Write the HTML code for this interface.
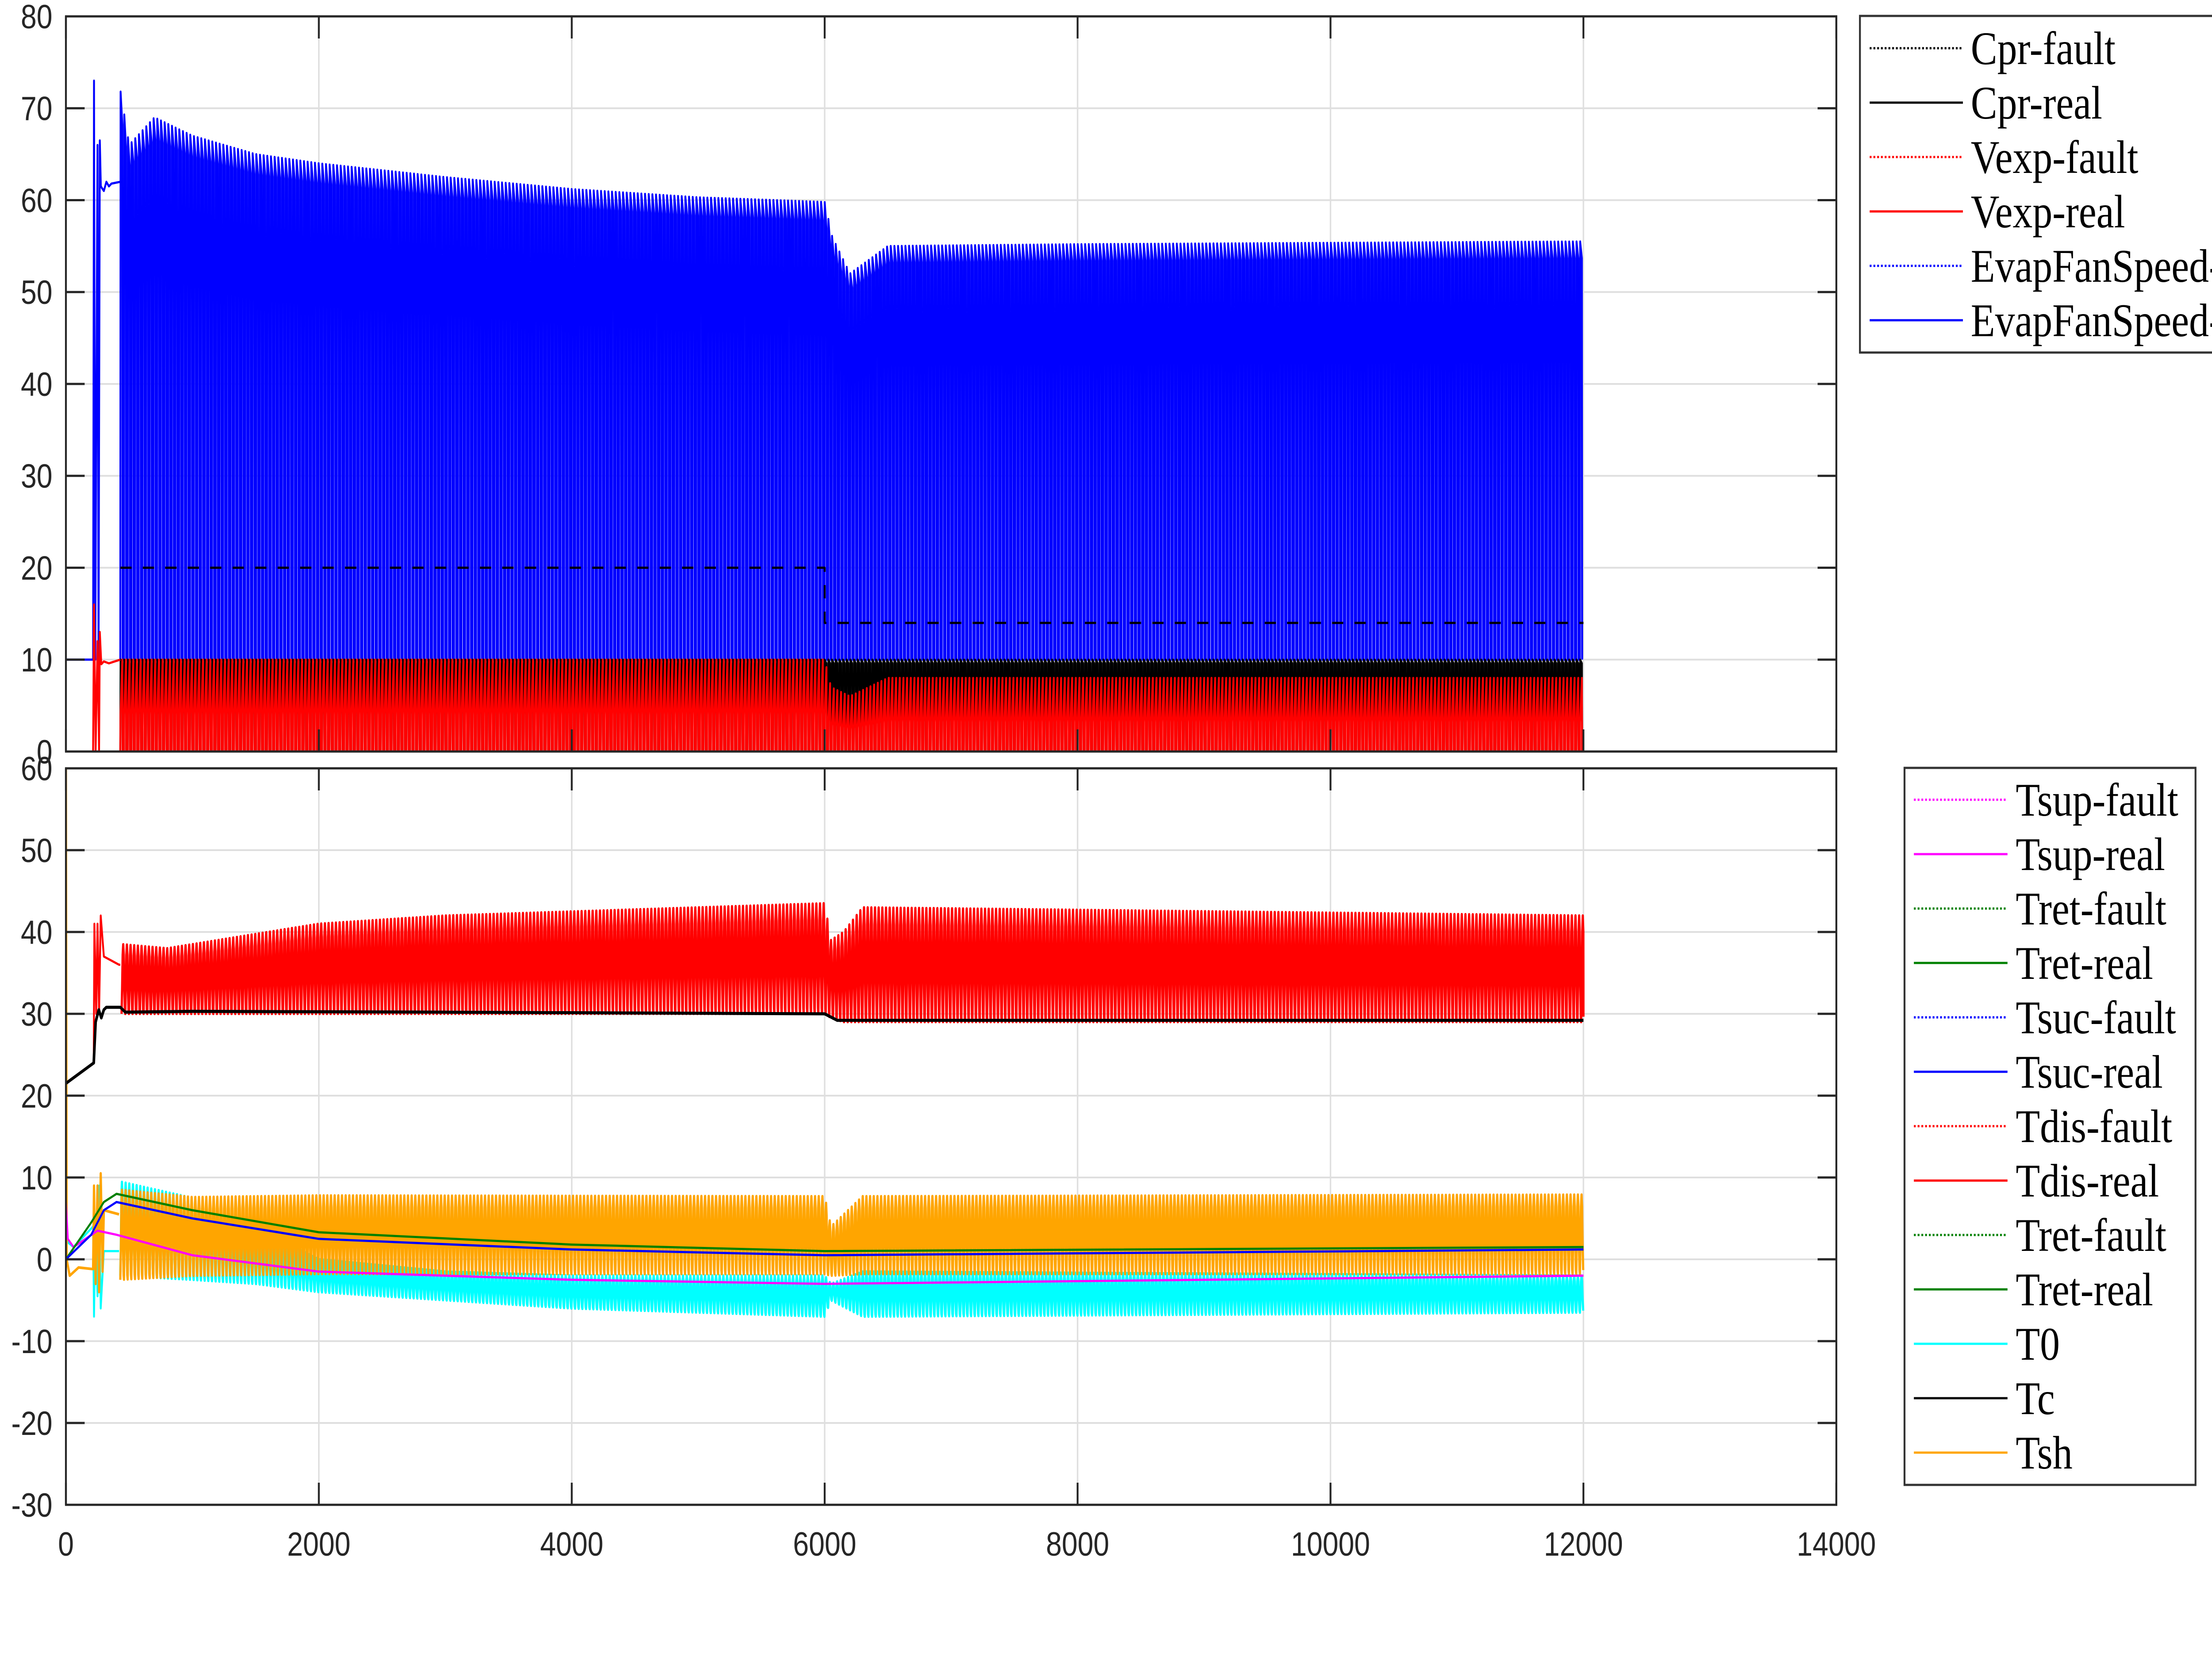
<!DOCTYPE html>
<html><head><meta charset="utf-8">
<style>
html,body{margin:0;padding:0;background:#fff;width:100%;overflow:hidden;}
svg{display:block;width:100vw;height:3780px;}
.tk{font-family:"Liberation Sans",sans-serif;font-size:76px;fill:#262626;}
.lg{font-family:"Liberation Serif",serif;font-size:106px;fill:#000;}
</style></head>
<body>
<svg id="fig" viewBox="0 0 5906 3780" preserveAspectRatio="none" xmlns="http://www.w3.org/2000/svg">
<rect width="5906" height="3780" fill="#fff"/>
<g id="top-grid"></g>
<g id="bot-grid"></g>
<clipPath id="cpTop"><rect x="176" y="37" width="4727" height="1662"/></clipPath>
<clipPath id="cpBot"><rect x="176" y="1737" width="4727" height="1665"/></clipPath>
<g id="top-series" clip-path="url(#cpTop)"></g>
<g id="bot-series" clip-path="url(#cpBot)"></g>
<g id="axes"></g>
<g id="legend-top">
<path d="M5906,36 L4966,36 L4966,797 L5906,797" fill="#fff" stroke="#333" stroke-width="5"/>
</g>
<g id="legend-bot">
<rect x="5085" y="1736" width="777" height="1621" fill="#fff" stroke="#333" stroke-width="5"/>
</g>
</svg>
<script>
// ---- data ----
const xTicks=[0,2000,4000,6000,8000,10000,12000,14000];
const topYTicks=[0,10,20,30,40,50,60,70,80];
const botYTicks=[-30,-20,-10,0,10,20,30,40,50,60];
const period=29;
// EvapFanSpeed
const evapEarlyT=[0,215,222,232,250,258,268,276,300,320,340,360,430];
const evapEarlyV=[10,10,73,10,66,10,66.5,61.5,61,62,61.5,61.8,62];
const evapEnvT=[430,500,700,1000,1500,2000,3000,4000,5000,6000,6060,6200,6500,8000,12000];
const evapHi=[72,66,69,67,65,64,62.5,61.2,60.3,59.8,56,52,55,55.2,55.5];
const evapLo=[10,10,10,10,10,10,10,10,10,10,10,10,10,10,10];
// Vexp
const vexpEarlyT=[0,215,222,235,250,262,268,280,300,340,430];
const vexpEarlyV=[0,0,16,0,12,0,13,9.5,9.8,9.6,10];
const vexpEnvT=[430,6000,6050,6200,6500,12000];
const vexpHi=[10,10,7,6,8,8];
const vexpLo=[0,0,0,0,0,0];
// Cpr
const cprEnvT=[430,6000,6050,12000];
const cprHi=[10,10,10,10];
const cprLo=[0,0,0,0];
const cprFaultT=[430,6000,6000,12000];
const cprFaultV=[20,20,14,14];
// Tc
const tcT=[0,220,235,260,280,300,320,430,470,1000,3000,6000,6100,12000];
const tcV=[21.5,24,29,30.5,29.5,30.5,30.8,30.8,30.2,30.3,30.2,30,29.2,29.2];
// Tdis
const tdisEarlyT=[0,220,225,240,250,262,275,300,420,430];
const tdisEarlyV=[21.5,24,41,30,41,30,42,37,36,36];
const tdisEnvT=[440,800,1000,2000,3000,4000,6000,6050,6150,6300,12000];
const tdisHi=[38.5,38,38.5,41,42,42.5,43.5,39,40,43,42];
const tdisLo=[30,30,30,30,30,30,30,29.5,29,29,29];
// Tsh
const tshEarlyT=[0,6,30,100,215,222,235,250,262,275,290,300,420];
const tshEarlyV=[60,0,-2,-1,-1.2,9,-3,9,-4,10.5,-1.5,6,5.5];
const tshEnvT=[430,1000,2000,6000,6050,6300,12000];
const tshHi=[8.5,7.6,7.8,7.7,4,7.7,7.9];
const tshLo=[-2.5,-2,-1.8,-1.8,-2,-1.8,-1.8];
// T0
const t0EarlyT=[0,20,60,215,222,235,250,262,275,300,420];
const t0EarlyV=[2.8,2,1.5,4,-7,5,-4.5,9,-6,1,1];
const t0EnvT=[430,1000,1500,2000,3000,4000,6000,6050,6300,12000];
const t0Hi=[9.5,7.5,4,0,-1.5,-2,-2,-3,-1.5,-2];
const t0Lo=[-2,-2.5,-3,-4,-5,-6,-7,-5,-7,-6.5];
// Tret, Tsuc, Tsup
const tretT=[0,200,300,400,1000,2000,4000,6000,12000];
const tretV=[0,4.5,7,8,6,3.3,1.8,1,1.5];
const tsucT=[0,200,300,400,1000,2000,4000,6000,12000];
const tsucV=[0,3,6,7,5,2.5,1.2,0.5,1.2];
const tsupT=[0,15,60,250,400,1000,2000,4000,6000,12000];
const tsupV=[7,2.5,1.5,3.5,3,0.5,-1.5,-2.5,-3,-2];

// ---- scales ----
const X0=176,X1=4903;
const xs=t=>X0+t/14000*(X1-X0);
const yT=v=>1699-v/80*(1699-37);
const yB=v=>3402-(v+30)/90*(3402-1737);
const NS="http://www.w3.org/2000/svg";
function mk(tag,attrs,parent){const e=document.createElementNS(NS,tag);for(const k in attrs)e.setAttribute(k,attrs[k]);parent.appendChild(e);return e;}
function env(ts,vs,t){if(t<=ts[0])return vs[0];for(let i=1;i<ts.length;i++){if(t<=ts[i]){const f=(t-ts[i-1])/(ts[i]-ts[i-1]||1);return vs[i-1]+f*(vs[i]-vs[i-1]);}}return vs[vs.length-1];}
function linePts(ts,vs,ys){return ts.map((t,i)=>xs(t).toFixed(1)+","+ys(vs[i]).toFixed(1)).join(" ");}
function oscPts(ts,hi,lo,ys,shape){const pts=[];const t0=ts[0],t1=ts[ts.length-1];
 for(let t=t0;t<t1;t+=period){for(const [ph,w] of shape){const tt=Math.min(t+ph*period,t1);const h=env(ts,hi,tt),l=env(ts,lo,tt);pts.push(xs(tt).toFixed(1)+","+ys(l+w*(h-l)).toFixed(1));}}
 return pts.join(" ");}
const sine=[[0,0],[0.15,0.35],[0.3,0.85],[0.45,1],[0.6,0.85],[0.75,0.35],[0.9,0.05]];
const pulse=[[0,0],[0.08,1],[0.55,0.96],[0.62,0]];
const saw=[[0,0],[0.05,0.4],[0.55,1],[0.62,0]];

// ---- grid & axes ----
const tg=document.getElementById('top-grid'), bg=document.getElementById('bot-grid'), ax=document.getElementById('axes');
for(const t of xTicks){
 let l=mk('line',{x1:xs(t),x2:xs(t),y1:37,y2:1699,stroke:'#dfdfdf','stroke-width':4},tg);
 
 
 l=mk('line',{x1:xs(t),x2:xs(t),y1:1737,y2:3402,stroke:'#dfdfdf','stroke-width':4},bg);
 
 
}
for(const v of topYTicks){
 const l=mk('line',{x1:X0,x2:X1,y1:yT(v),y2:yT(v),stroke:'#dfdfdf','stroke-width':4},tg);
 
 
}
for(const v of botYTicks){
 const l=mk('line',{x1:X0,x2:X1,y1:yB(v),y2:yB(v),stroke:'#dfdfdf','stroke-width':4},bg);
 
 
}
function box(y0,y1,name){const r=mk('rect',{x:X0,y:y0,width:X1-X0,height:y1-y0,fill:'none',stroke:'#262626','stroke-width':5},ax);
 
 }
function ticks(y0,y1,ys,yt){
 for(const t of xTicks){mk('line',{x1:xs(t),x2:xs(t),y1:y1,y2:y1-50,stroke:'#262626','stroke-width':5},ax);mk('line',{x1:xs(t),x2:xs(t),y1:y0,y2:y0+50,stroke:'#262626','stroke-width':5},ax);}
 for(const v of yt){mk('line',{x1:X0,x2:X0+50,y1:ys(v),y2:ys(v),stroke:'#262626','stroke-width':5},ax);mk('line',{x1:X1,x2:X1-50,y1:ys(v),y2:ys(v),stroke:'#262626','stroke-width':5},ax);
  const tx=mk('text',{x:140,y:ys(v)+27,'text-anchor':'end',class:'tk'},ax);tx.textContent=v;
  
  }
}

// ---- top series ----
const ts=document.getElementById('top-series');
function poly(parent,pts,color,w,name,dash){const p=mk('polyline',{points:pts,fill:'none',stroke:color,'stroke-width':w,'stroke-linejoin':'round'},parent);if(dash)p.setAttribute('stroke-dasharray',dash);
 
 return p;}
poly(ts,linePts(evapEarlyT,evapEarlyV,yT),'#0000ff',5,'evapfanspeed-early');
poly(ts,oscPts(evapEnvT,evapHi,evapLo,yT,pulse),'#0000ff',5,'evapfanspeed-real-line');
poly(ts,linePts(cprFaultT,cprFaultV,yT),'#000',5,'cpr-fault-line','30,30');
poly(ts,oscPts(cprEnvT,cprHi,cprLo,yT,pulse),'#000',5,'cpr-real-line');
poly(ts,linePts(vexpEarlyT,vexpEarlyV,yT),'#ff0000',5,'vexp-early');
poly(ts,oscPts(vexpEnvT,vexpHi,vexpLo,yT,saw),'#ff0000',5,'vexp-real-line');

// ---- bottom series ----
const bs=document.getElementById('bot-series');
poly(bs,linePts(t0EarlyT,t0EarlyV,yB),'#00ffff',5,'t0-early');
poly(bs,oscPts(t0EnvT,t0Hi,t0Lo,yB,sine),'#00ffff',6,'t0-line');
poly(bs,linePts(tshEarlyT,tshEarlyV,yB),'#ffa500',6,'tsh-early');
poly(bs,oscPts(tshEnvT,tshHi,tshLo,yB,sine),'#ffa500',6,'tsh-line');
poly(bs,linePts(tsupT,tsupV,yB),'#ff00ff',5,'tsup-real-line');
poly(bs,linePts(tretT,tretV,yB),'#008000',5,'tret-real-line');
poly(bs,linePts(tsucT,tsucV,yB),'#0000ff',5,'tsuc-real-line');
poly(bs,linePts(tdisEarlyT,tdisEarlyV,yB),'#ff0000',5,'tdis-early');
poly(bs,oscPts(tdisEnvT,tdisHi,tdisLo,yB,sine),'#ff0000',6,'tdis-real-line');
poly(bs,linePts(tcT,tcV,yB),'#000',7,'tc-line');

box(37,1699,'top-axes-box');
box(1737,3402,'bottom-axes-box');
ticks(37,1699,yT,topYTicks);
ticks(1737,3402,yB,botYTicks);
for(const t of xTicks){const tx=mk('text',{x:xs(t),y:3517,'text-anchor':'middle',class:'tk'},ax);tx.textContent=t;
 
 }

// ---- legends ----
const topLeg=[['Cpr-fault','#000',1],['Cpr-real','#000',0],['Vexp-fault','#ff0000',1],['Vexp-real','#ff0000',0],['EvapFanSpeed-','#0000ff',1],['EvapFanSpeed-','#0000ff',0]];
const botLeg=[['Tsup-fault','#ff00ff',1],['Tsup-real','#ff00ff',0],['Tret-fault','#008000',1],['Tret-real','#008000',0],['Tsuc-fault','#0000ff',1],['Tsuc-real','#0000ff',0],['Tdis-fault','#ff0000',1],['Tdis-real','#ff0000',0],['Tret-fault','#008000',1],['Tret-real','#008000',0],['T0','#00ffff',0],['Tc','#000',0],['Tsh','#ffa500',0]];
function legend(g,items,y0,lx0,lx1,tx){items.forEach((it,i)=>{const y=y0+i*123;
 const l=mk('line',{x1:lx0,x2:lx1,y1:y,y2:y,stroke:it[1],'stroke-width':5},g);if(it[2])l.setAttribute('stroke-dasharray','5,5');
 
 
 const t=mk('text',{x:tx,y:y+36,class:'lg'},g);t.textContent=it[0];
 
 });}
legend(document.getElementById('legend-top'),topLeg,109,4992,5241,5262);
legend(document.getElementById('legend-bot'),botLeg,1808,5110,5360,5382);
</script>
</body></html>
